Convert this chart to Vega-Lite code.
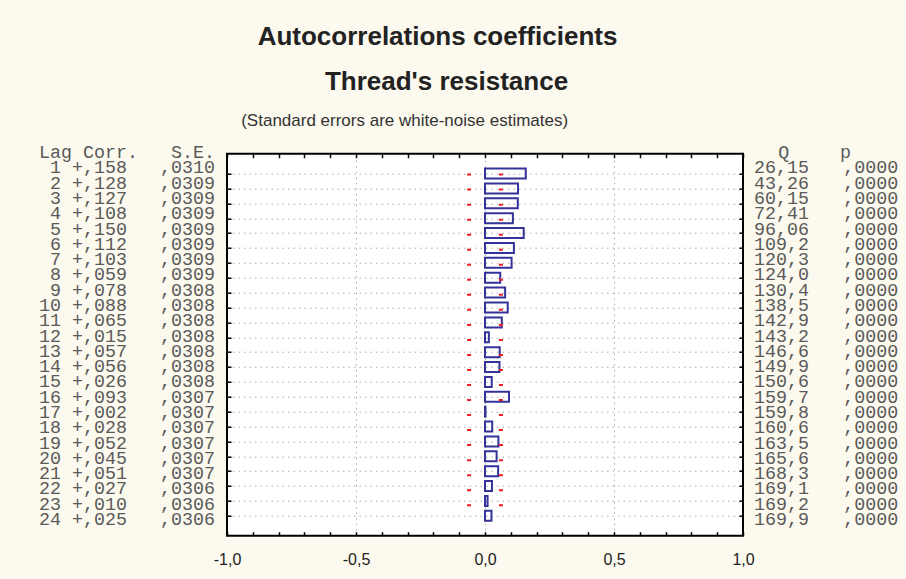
{
  "$schema": "https://vega.github.io/schema/vega-lite/v6.json",
  "autosize": {"type": "none"},
  "padding": {"left": 0, "top": 153.7, "right": 906, "bottom": 425.3},
  "background": "#fcf9ee",
  "title": {"text": "Autocorrelations coefficients", "anchor": "middle", "dx": -15.5, "offset": 18, "font": "Liberation Sans", "fontSize": 26, "fontWeight": "bold", "color": "#222222"},
  "datasets": {
    "acf": [
      {"lag": 1, "corr": 0.158, "corrText": "+,158", "seText": ",0310", "qText": "26,15", "pText": ",0000"},
      {"lag": 2, "corr": 0.128, "corrText": "+,128", "seText": ",0309", "qText": "43,26", "pText": ",0000"},
      {"lag": 3, "corr": 0.127, "corrText": "+,127", "seText": ",0309", "qText": "60,15", "pText": ",0000"},
      {"lag": 4, "corr": 0.108, "corrText": "+,108", "seText": ",0309", "qText": "72,41", "pText": ",0000"},
      {"lag": 5, "corr": 0.150, "corrText": "+,150", "seText": ",0309", "qText": "96,06", "pText": ",0000"},
      {"lag": 6, "corr": 0.112, "corrText": "+,112", "seText": ",0309", "qText": "109,2", "pText": ",0000"},
      {"lag": 7, "corr": 0.103, "corrText": "+,103", "seText": ",0309", "qText": "120,3", "pText": ",0000"},
      {"lag": 8, "corr": 0.059, "corrText": "+,059", "seText": ",0309", "qText": "124,0", "pText": ",0000"},
      {"lag": 9, "corr": 0.078, "corrText": "+,078", "seText": ",0308", "qText": "130,4", "pText": ",0000"},
      {"lag": 10, "corr": 0.088, "corrText": "+,088", "seText": ",0308", "qText": "138,5", "pText": ",0000"},
      {"lag": 11, "corr": 0.065, "corrText": "+,065", "seText": ",0308", "qText": "142,9", "pText": ",0000"},
      {"lag": 12, "corr": 0.015, "corrText": "+,015", "seText": ",0308", "qText": "143,2", "pText": ",0000"},
      {"lag": 13, "corr": 0.057, "corrText": "+,057", "seText": ",0308", "qText": "146,6", "pText": ",0000"},
      {"lag": 14, "corr": 0.056, "corrText": "+,056", "seText": ",0308", "qText": "149,9", "pText": ",0000"},
      {"lag": 15, "corr": 0.026, "corrText": "+,026", "seText": ",0308", "qText": "150,6", "pText": ",0000"},
      {"lag": 16, "corr": 0.093, "corrText": "+,093", "seText": ",0307", "qText": "159,7", "pText": ",0000"},
      {"lag": 17, "corr": 0.002, "corrText": "+,002", "seText": ",0307", "qText": "159,8", "pText": ",0000"},
      {"lag": 18, "corr": 0.028, "corrText": "+,028", "seText": ",0307", "qText": "160,6", "pText": ",0000"},
      {"lag": 19, "corr": 0.052, "corrText": "+,052", "seText": ",0307", "qText": "163,5", "pText": ",0000"},
      {"lag": 20, "corr": 0.045, "corrText": "+,045", "seText": ",0307", "qText": "165,6", "pText": ",0000"},
      {"lag": 21, "corr": 0.051, "corrText": "+,051", "seText": ",0307", "qText": "168,3", "pText": ",0000"},
      {"lag": 22, "corr": 0.027, "corrText": "+,027", "seText": ",0306", "qText": "169,1", "pText": ",0000"},
      {"lag": 23, "corr": 0.010, "corrText": "+,010", "seText": ",0306", "qText": "169,2", "pText": ",0000"},
      {"lag": 24, "corr": 0.025, "corrText": "+,025", "seText": ",0306", "qText": "169,9", "pText": ",0000"}
    ],
    "head": [
      {"lag": 0, "lagCorr": "Lag Corr.", "se": "S.E.", "q": "Q", "p": "p"}
    ],
    "limits": [
      {"lim": -0.0617, "start": 1, "end": 23.7},
      {"lim": 0.0617, "start": 1, "end": 23.7}
    ]
  },
  "spacing": 0,
  "bounds": "flush",
  "hconcat": [
    {
      "width": 227,
      "height": 382,
      "view": {"stroke": null},
      "encoding": {
        "y": {"field": "lag", "type": "quantitative", "scale": {"domain": [0, 25], "reverse": true, "nice": false, "zero": false}, "axis": null}
      },
      "layer": [
        {
          "data": {"name": "acf"},
          "mark": {"type": "text", "align": "right", "baseline": "alphabetic", "dy": 4.5, "font": "Liberation Mono", "fontSize": 18.33, "color": "#5a5a5a"},
          "encoding": {
            "x": {"datum": 2, "type": "quantitative", "scale": {"domain": [-3.545, 17.091], "nice": false, "zero": false}, "axis": null},
            "text": {"field": "lag", "type": "quantitative"}
          }
        },
        {
          "data": {"name": "acf"},
          "mark": {"type": "text", "align": "right", "baseline": "alphabetic", "dy": 4.5, "font": "Liberation Mono", "fontSize": 18.33, "color": "#5a5a5a"},
          "encoding": {
            "x": {"datum": 8, "type": "quantitative"},
            "text": {"field": "corrText"}
          }
        },
        {
          "data": {"name": "acf"},
          "mark": {"type": "text", "align": "right", "baseline": "alphabetic", "dy": 4.5, "font": "Liberation Mono", "fontSize": 18.33, "color": "#5a5a5a"},
          "encoding": {
            "x": {"datum": 16, "type": "quantitative"},
            "text": {"field": "seText"}
          }
        },
        {
          "data": {"name": "head"},
          "mark": {"type": "text", "align": "left", "baseline": "alphabetic", "dy": 4.5, "font": "Liberation Mono", "fontSize": 18.33, "color": "#5a5a5a"},
          "encoding": {
            "x": {"datum": 0, "type": "quantitative"},
            "text": {"field": "lagCorr"}
          }
        },
        {
          "data": {"name": "head"},
          "mark": {"type": "text", "align": "right", "baseline": "alphabetic", "dy": 4.5, "font": "Liberation Mono", "fontSize": 18.33, "color": "#5a5a5a"},
          "encoding": {
            "x": {"datum": 16, "type": "quantitative"},
            "text": {"field": "se"}
          }
        }
      ]
    },
    {
      "width": 516,
      "height": 382,
      "view": {"fill": "white", "stroke": "black", "strokeWidth": 2},
      "title": {
        "text": "Thread's resistance",
        "subtitle": "(Standard errors are white-noise estimates)",
        "anchor": "end",
        "dx": -186,
        "offset": 24,
        "subtitlePadding": 18,
        "font": "Liberation Sans",
        "fontSize": 26,
        "fontWeight": "bold",
        "color": "#222222",
        "subtitleFont": "Liberation Sans",
        "subtitleFontSize": 17,
        "subtitleColor": "#333333"
      },
      "layer": [
        {
          "data": {"name": "acf"},
          "mark": {"type": "bar", "filled": false, "color": "#333399", "strokeWidth": 2, "height": 10, "orient": "horizontal"},
          "encoding": {
            "x": {
              "field": "corr", "type": "quantitative",
              "scale": {"domain": [-1, 1], "nice": false, "zero": false},
              "axis": {
                "orient": "bottom",
                "values": [-1, -0.9, -0.8, -0.7, -0.6, -0.5, -0.4, -0.3, -0.2, -0.1, 0, 0.1, 0.2, 0.3, 0.4, 0.5, 0.6, 0.7, 0.8, 0.9, 1],
                "format": ".1f",
                "labelExpr": "abs(datum.value * 2 - round(datum.value * 2)) < 0.001 ? datum.label : ''",
                "labelOverlap": false,
                "labelFlush": false,
                "tickSize": -4,
                "tickColor": "black",
                "tickWidth": 1.5,
                "domain": false,
                "grid": true,
                "gridDash": [1.5, 4],
                "gridColor": "#aaaaaa",
                "gridOpacity": {"condition": {"test": "datum.value == 0 || abs(datum.value) == 0.5", "value": 1}, "value": 0},
                "labelFont": "Liberation Sans",
                "labelFontSize": 16,
                "labelColor": "#222222",
                "labelPadding": 20,
                "title": null
              }
            },
            "x2": {"datum": 0},
            "y": {
              "field": "lag", "type": "quantitative",
              "scale": {"domain": [0, 25], "reverse": true, "nice": false, "zero": false},
              "axis": {
                "orient": "left",
                "values": [1, 2, 3, 4, 5, 6, 7, 8, 9, 10, 11, 12, 13, 14, 15, 16, 17, 18, 19, 20, 21, 22, 23, 24],
                "labels": false,
                "tickSize": -4,
                "tickColor": "black",
                "tickWidth": 1.5,
                "domain": false,
                "grid": true,
                "gridDash": [1.5, 4],
                "gridColor": "#aaaaaa",
                "title": null
              }
            }
          }
        },
        {
          "data": {"name": "limits"},
          "mark": {"type": "rule", "color": "#ed1c24", "strokeWidth": 4, "strokeDash": [2, 13.03]},
          "encoding": {
            "x": {
              "field": "lim", "type": "quantitative",
              "axis": {
                "orient": "top",
                "values": [-1, -0.9, -0.8, -0.7, -0.6, -0.5, -0.4, -0.3, -0.2, -0.1, 0, 0.1, 0.2, 0.3, 0.4, 0.5, 0.6, 0.7, 0.8, 0.9, 1],
                "labels": false,
                "tickSize": -4,
                "tickColor": "black",
                "tickWidth": 1.5,
                "domain": false,
                "grid": false,
                "title": null
              }
            },
            "y": {
              "field": "start", "type": "quantitative",
              "axis": {
                "orient": "right",
                "values": [1, 2, 3, 4, 5, 6, 7, 8, 9, 10, 11, 12, 13, 14, 15, 16, 17, 18, 19, 20, 21, 22, 23, 24],
                "labels": false,
                "tickSize": -4,
                "tickColor": "black",
                "tickWidth": 1.5,
                "domain": false,
                "grid": false,
                "title": null
              }
            },
            "y2": {"field": "end"}
          }
        }
      ],
      "resolve": {"axis": {"x": "independent", "y": "independent"}}
    },
    {
      "width": 163,
      "height": 382,
      "view": {"stroke": null},
      "encoding": {
        "y": {"field": "lag", "type": "quantitative", "scale": {"domain": [0, 25], "reverse": true, "nice": false, "zero": false}, "axis": null}
      },
      "layer": [
        {
          "data": {"name": "acf"},
          "mark": {"type": "text", "align": "right", "baseline": "alphabetic", "dy": 4.5, "font": "Liberation Mono", "fontSize": 18.33, "color": "#5a5a5a"},
          "encoding": {
            "x": {"datum": 5.1, "type": "quantitative", "scale": {"domain": [-0.9091, 13.9091], "nice": false, "zero": false}, "axis": null},
            "text": {"field": "qText"}
          }
        },
        {
          "data": {"name": "acf"},
          "mark": {"type": "text", "align": "right", "baseline": "alphabetic", "dy": 4.5, "font": "Liberation Mono", "fontSize": 18.33, "color": "#5a5a5a"},
          "encoding": {
            "x": {"datum": 13.2, "type": "quantitative"},
            "text": {"field": "pText"}
          }
        },
        {
          "data": {"name": "head"},
          "mark": {"type": "text", "align": "center", "baseline": "alphabetic", "dy": 4.5, "font": "Liberation Mono", "fontSize": 18.33, "color": "#5a5a5a"},
          "encoding": {
            "x": {"datum": 2.8, "type": "quantitative"},
            "text": {"field": "q"}
          }
        },
        {
          "data": {"name": "head"},
          "mark": {"type": "text", "align": "left", "baseline": "alphabetic", "dy": 4.5, "font": "Liberation Mono", "fontSize": 18.33, "color": "#5a5a5a"},
          "encoding": {
            "x": {"datum": 7.9, "type": "quantitative"},
            "text": {"field": "p"}
          }
        }
      ]
    }
  ],
  "config": {
    "view": {"stroke": null},
    "locale": {"number": {"decimal": ",", "thousands": ".", "grouping": [3], "currency": ["", ""], "minus": "-"}}
  }
}
